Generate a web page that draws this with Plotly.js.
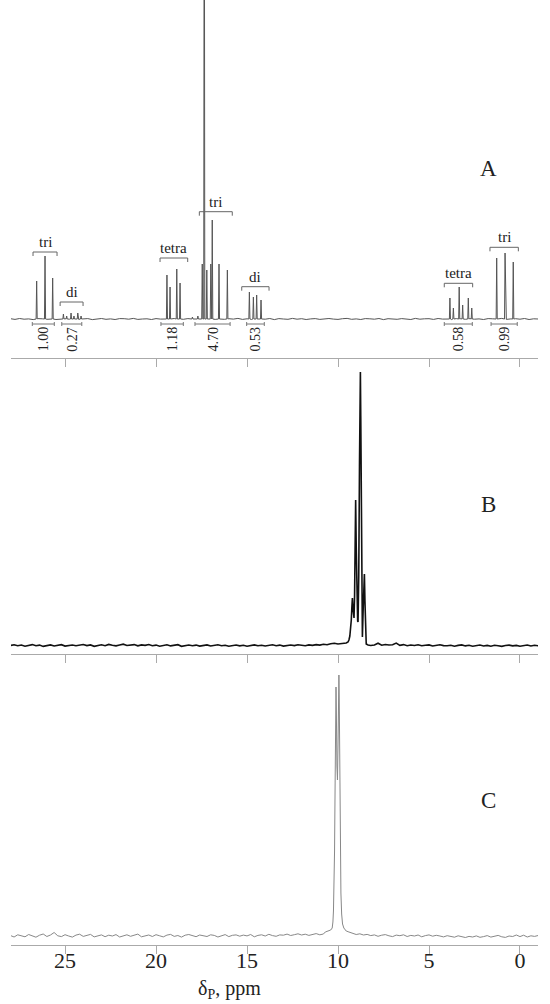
<!DOCTYPE html>
<html><head><meta charset="utf-8">
<script src="https://cdn.plot.ly/plotly-3.0.1.min.js"></script>
<style>html,body{margin:0;padding:0;background:#fff}#chart{width:550px;height:1004px}</style>
</head><body><div id="chart"></div>
<script>
// ---------- DATA ----------
// Panel A: line positions (ppm) and intensities
const peaksA_ppm = [26.56,26.10,25.68, 25.09,24.91,24.67,24.51,24.30,24.12, 19.40,19.23,18.86,18.68, 18.00,17.70, 17.46,17.35,17.21,16.99,16.91,16.54,16.08, 14.87,14.65,14.47,14.23, 3.85,3.66,3.34,3.15,2.84,2.65, 1.28,0.82,0.37];
const peaksA_int = [38,63,41, 5,3,6,3,6,3, 44,32,50,36, 2,3, 55,600,49,55,99,55,49, 27,22,24,19, 21,11,32,14,21,11, 61,66,57];
// Panel A baseline noise (start 28.0 ppm, step 0.25 ppm)
const noiseA = [0.3,-0.4,0.5,-0.2,0.1,-0.6,0.4,0.2,-0.3,0.6,-0.5,0.1,0.3,-0.2,0.5,-0.4,0.0,0.4,-0.6,0.2,
0.5,-0.3,0.1,-0.5,0.4,0.3,-0.2,0.6,-0.4,0.0,0.2,-0.5,0.4,-0.1,0.3,-0.6,0.5,0.1,-0.3,0.4,
-0.2,0.6,-0.5,0.2,0.0,-0.4,0.5,-0.3,0.3,-0.1,0.6,-0.4,0.2,-0.5,0.3,0.1,-0.2,0.5,-0.6,0.4,
0.0,-0.3,0.6,-0.2,0.3,-0.5,0.1,0.4,-0.4,0.2,0.5,-0.1,-0.4,0.3,0.6,-0.3,0.1,-0.5,0.4,0.2,
-0.2,0.5,-0.6,0.3,0.0,-0.3,0.4,0.1,-0.5,0.6,-0.2,0.2,0.3,-0.4,0.5,-0.1,0.0,-0.6,0.4,0.3,
-0.3,0.5,-0.2,0.1,-0.5,0.4,0.2,-0.3,0.6,-0.4,0.1,0.3,-0.2,0.5,-0.5,0.2,0.0];
// Panel A multiplet labels
const multLabels = ["tri","di","tetra","tri","di","tetra","tri"];
const multFrom   = [26.76,25.27,19.78,17.62,15.29,4.16,1.65];
const multTo     = [25.44,24.01,18.26,15.81,13.79,2.60,0.09];
// Panel A integrals
const integLabels = ["1.00","0.27","1.18","4.70","0.53","0.58","0.99"];
const integFrom   = [26.80,25.18,19.73,17.86,15.02,4.16,1.59];
const integTo     = [25.59,24.08,18.50,15.93,14.05,2.62,0.15];

// Panel B: peak profile (ppm, intensity)
const profB_ppm = [9.70,9.55,9.45,9.40,9.35,9.31,9.27,9.24,9.21,9.18,9.14,9.12,9.09,9.06,9.03,9.00,8.96,8.92,8.90,8.86,8.82,8.79,8.77,8.75,8.72,8.69,8.66,8.62,8.58,8.55,8.52,8.49,8.45,8.35];
const profB_int = [2,3,4,6,10,16,26,38,48,38,30,28,50,110,146,100,40,25,24,70,180,255,274,230,110,30,9,35,65,72,45,12,2,1];
// Panel B baseline (start 28.0 ppm, step 0.2 ppm)
const noiseB = [0.5,1.2,0.3,1.0,-0.2,0.8,1.4,0.2,0.9,-0.4,0.6,1.1,0.0,0.7,1.3,-0.1,0.5,1.0,0.2,0.8,
1.5,0.4,1.1,-0.3,0.6,1.2,0.3,1.6,0.7,0.1,1.0,1.8,0.5,0.9,1.4,0.2,1.1,0.6,1.5,0.3,
0.9,-0.2,0.7,1.2,0.1,0.8,1.3,-0.3,0.5,1.0,0.2,0.9,-0.1,0.6,1.1,0.0,0.7,1.2,0.3,0.8,
-0.2,0.5,1.0,0.1,0.7,-0.3,0.6,1.1,0.2,0.8,0.0,0.5,1.2,0.3,0.9,-0.1,0.6,1.0,0.4,1.3,
0.8,0.3,1.1,0.6,1.4,0.9,1.7,1.2,2.2,2.8,2.0,2.4,2.0,2.0,2.0,2.0,2.0,2.0,2.0,0.5,
1.0,2.8,0.8,1.5,1.0,1.2,2.9,0.6,1.4,0.3,1.0,0.5,1.2,0.2,0.8,1.1,0.0,0.7,1.3,0.4,
0.2,0.8,-0.2,0.6,1.1,0.1,0.7,-0.3,0.5,1.0,0.0,0.6,-0.2,0.8,0.3,-0.4,0.5,0.9,0.1,0.6,
-0.2,0.5,1.0,0.0,0.7,0.3];

// Panel C: peak profile (ppm, intensity)
const profC_ppm = [10.70,10.50,10.40,10.32,10.28,10.25,10.22,10.19,10.16,10.13,10.11,10.09,10.06,10.03,10.00,9.97,9.95,9.93,9.90,9.87,9.84,9.80,9.75,9.68,9.55,9.40];
const profC_int = [4,5,6,8,14,25,45,85,150,215,249,225,170,156,190,245,261,235,150,80,43,22,12,8,5,4];
// Panel C baseline (start 28.0 ppm, step 0.2 ppm)
const noiseC = [0.5,-1.0,1.2,0.0,-0.8,1.5,0.3,-1.2,0.8,2.0,-0.5,1.0,3.5,0.2,-0.6,1.3,0.0,-1.1,0.9,1.8,
-0.4,0.6,1.6,-0.9,0.4,1.1,-0.7,0.8,0.0,1.4,-1.0,0.5,1.2,-0.3,0.7,1.9,-0.8,0.3,1.0,-0.5,
1.3,0.2,-0.9,0.9,1.6,-0.4,0.5,-1.1,0.8,1.5,0.0,-0.7,1.0,0.3,-0.5,1.2,0.6,-1.0,0.4,1.4,
-0.6,0.7,1.1,-0.2,0.9,0.1,1.5,-0.8,0.6,1.2,0.0,1.7,0.4,-0.3,1.1,0.8,1.9,0.5,1.3,2.2,
1.0,1.8,0.6,1.5,2.4,1.2,2.0,0,0,0,0,0,0,0,2.8,1.5,2.2,1.0,1.6,0.4,
1.1,-0.3,0.8,1.4,0.2,-0.6,0.9,0.3,1.2,-0.5,0.6,0.0,1.0,-0.8,0.4,1.1,-0.2,0.7,0.0,-0.9,
0.3,-0.7,-1.2,0.2,-0.9,-1.5,-0.4,-1.0,0.1,-1.3,-0.6,0.4,-1.1,-0.3,0.6,-0.8,-1.4,0.0,-0.5,1.0,
-0.6,0.8,-1.0,0.2,-0.4,0.5];

const tickVals = [25,20,15,10,5,0];
const tickText = ["25","20","15","10","5","0"];
const panelNames = ["A","B","C"];
const xTitle = "δ<sub>P</sub>, ppm";

// ---------- LAYOUT CONSTANTS (pixels) ----------
const W = 550, H = 1004;
const py = p => 1 - p / H;
const xr = [27.97, -0.99];
const xdom = [11 / W, 538 / W];
const multLevelPx = [252, 302, 258, 211.7, 286.7, 283.3, 247.3];
const baseA = 319;         // baseline pixel in panel A
const integPx = 324, integTextPx = 339;

// ---------- BUILD LINES ----------
function gridX(start, step, n) { const a = []; for (let i = 0; i < n; i++) a.push(+(start - i * step).toFixed(4)); return a; }
function mergeProfile(nx, ny, px, pyv) {
  const lo = Math.min(...px), hi = Math.max(...px);
  const pts = [];
  nx.forEach((x, i) => { if (x < lo || x > hi) pts.push([x, ny[i]]); });
  px.forEach((x, i) => pts.push([x, pyv[i]]));
  pts.sort((a, b) => b[0] - a[0]);
  return { x: pts.map(p => p[0]), y: pts.map(p => p[1]) };
}
function mergeSticks(nx, ny, px, pyv, hw) {
  const pts = [];
  nx.forEach((x, i) => { if (!px.some(p => Math.abs(p - x) < hw * 1.5)) pts.push([x, ny[i]]); });
  px.forEach((x, i) => { pts.push([x + hw, 0]); pts.push([x, pyv[i]]); pts.push([x - hw, 0]); });
  pts.sort((a, b) => b[0] - a[0]);
  return { x: pts.map(p => p[0]), y: pts.map(p => p[1]) };
}
const lineA = mergeSticks(gridX(28, 0.25, noiseA.length), noiseA, peaksA_ppm, peaksA_int, 0.03);
const lineB = mergeProfile(gridX(28, 0.2, noiseB.length), noiseB, profB_ppm, profB_int);
const lineC = mergeProfile(gridX(28, 0.2, noiseC.length), noiseC, profC_ppm, profC_int);

const traces = [
  { x: lineA.x, y: lineA.y, xaxis: 'x', yaxis: 'y', mode: 'lines', line: { color: '#555', width: 1 }, hoverinfo: 'skip' },
  { x: lineB.x, y: lineB.y, xaxis: 'x2', yaxis: 'y2', mode: 'lines', line: { color: '#111', width: 1.6 }, hoverinfo: 'skip' },
  { x: lineC.x, y: lineC.y, xaxis: 'x3', yaxis: 'y3', mode: 'lines', line: { color: '#888', width: 1 }, hoverinfo: 'skip' },
  // invisible carrier for the tick-label axis of panel C
  { x: [xr[0]], y: [0], xaxis: 'x4', yaxis: 'y3', mode: 'markers', marker: { opacity: 0 }, hoverinfo: 'skip' }
];

const serif = 'Liberation Serif, Times New Roman, serif';
function xax(anchor) {
  return { domain: xdom, range: xr, anchor: anchor, showline: true, linecolor: '#aaa', linewidth: 1,
    ticks: 'outside', ticklen: 8, tickcolor: '#aaa', tickwidth: 1, tickvals: tickVals,
    showticklabels: false, showgrid: false, zeroline: false, fixedrange: true };
}
function yax(top, bot, base) {
  return { domain: [py(bot), py(top)], range: [-(bot - base), base - top], visible: false, showgrid: false, zeroline: false, fixedrange: true };
}

const shapes = [], annotations = [];
const vA = p => baseA - p; // pixel -> panel A value
multLabels.forEach((t, i) => {
  const y = vA(multLevelPx[i]);
  shapes.push({ type: 'path', xref: 'x', yref: 'y', line: { color: '#666', width: 1 },
    path: `M ${multFrom[i]} ${y - 4} L ${multFrom[i]} ${y} L ${multTo[i]} ${y} L ${multTo[i]} ${y - 4}` });
  annotations.push({ xref: 'x', yref: 'y', x: (multFrom[i] + multTo[i]) / 2, y: y + 1, yanchor: 'bottom', xanchor: 'center',
    text: t, showarrow: false, font: { family: serif, size: 15, color: '#222' }, borderpad: 0 });
});
integLabels.forEach((t, i) => {
  const y = vA(integPx);
  shapes.push({ type: 'path', xref: 'x', yref: 'y', line: { color: '#777', width: 1 },
    path: `M ${integFrom[i]} ${y + 2} L ${integFrom[i]} ${y - 2} M ${integFrom[i]} ${y} L ${integTo[i]} ${y} M ${integTo[i]} ${y + 2} L ${integTo[i]} ${y - 2}` });
  annotations.push({ xref: 'x', yref: 'y', x: (integFrom[i] + integTo[i]) / 2, y: vA(integTextPx), yanchor: 'middle', xanchor: 'center',
    text: t, textangle: -90, showarrow: false, font: { family: serif, size: 14, color: '#222' } });
});
const labelPx = [169, 504, 800];
panelNames.forEach((n, i) => {
  annotations.push({ xref: 'paper', yref: 'paper', x: 488 / W, y: py(labelPx[i]), xanchor: 'center', yanchor: 'middle',
    text: n, showarrow: false, font: { family: serif, size: 23, color: '#222' } });
});
annotations.push({ xref: 'paper', yref: 'paper', x: 230 / W, y: py(1003), xanchor: 'center', yanchor: 'bottom',
  text: xTitle, showarrow: false, font: { family: serif, size: 20, color: '#222' }, borderpad: 0 });

const labelAxis = { domain: xdom, range: xr, anchor: 'y3', overlaying: 'x3', showline: false,
  ticks: '', tickvals: tickVals, ticktext: tickText,
  showticklabels: true, tickfont: { family: serif, size: 22, color: '#222' },
  showgrid: false, zeroline: false, fixedrange: true };

const layout = {
  width: W, height: H, margin: { l: 0, r: 0, t: 0, b: 0 }, paper_bgcolor: '#fff', plot_bgcolor: 'rgba(0,0,0,0)',
  showlegend: false,
  xaxis: xax('y'), xaxis2: xax('y2'), xaxis3: xax('y3'), xaxis4: labelAxis,
  yaxis: yax(0, 358, 319), yaxis2: yax(365, 654, 646), yaxis3: yax(665, 945, 936),
  shapes: shapes, annotations: annotations
};
Plotly.newPlot('chart', traces, layout, { staticPlot: true, displayModeBar: false });
</script></body></html>
